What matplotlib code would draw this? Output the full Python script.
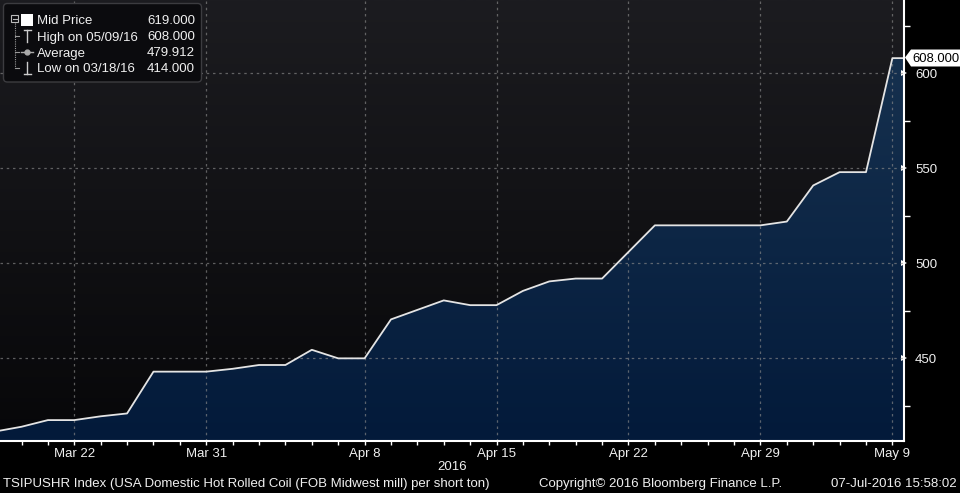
#!/usr/bin/env python3
# -*- coding: utf-8 -*-
"""
Bloomberg style area chart of the TSIPUSHR hot rolled coil index, spring 2016.
"""

import matplotlib
matplotlib.use('Agg')
import matplotlib.pyplot as plt
import matplotlib.patches as mpatches
import matplotlib.lines as mlines
from matplotlib.colors import LinearSegmentedColormap
import numpy

# UK business days shown on the chart (Good Friday, Easter Monday and May Day are skipped)
DATES = ['03/17', '03/18', '03/21', '03/22', '03/23', '03/24', '03/29', '03/30',
         '03/31', '04/01', '04/04', '04/05', '04/06', '04/07', '04/08', '04/11',
         '04/12', '04/13', '04/14', '04/15', '04/18', '04/19', '04/20', '04/21',
         '04/22', '04/25', '04/26', '04/27', '04/28', '04/29', '05/03', '05/04',
         '05/05', '05/06', '05/09', '05/10']
PRICES = [411.5, 414.0, 417.5, 417.5, 419.5, 421.0, 443.0, 443.0,
          443.0, 444.5, 446.5, 446.5, 454.5, 450.0, 450.0, 470.5,
          475.5, 480.5, 478.0, 478.0, 485.5, 490.5, 492.0, 492.0,
          506.0, 520.0, 520.0, 520.0, 520.0, 520.0, 522.0, 541.0,
          548.0, 548.0, 608.0, 608.0]
TICK_DATES = ['03/22', '03/31', '04/08', '04/15', '04/22', '04/29', '05/09']
TICK_LABELS = ['Mar 22', 'Mar 31', 'Apr 8', 'Apr 15', 'Apr 22', 'Apr 29', 'May 9']
Y_TICKS = [450, 500, 550, 600]
Y_MINOR = [425, 475, 525, 575, 625]

LEGEND_ROWS = [('Mid Price', '619.000'),
               ('High on 05/09/16', '608.000'),
               ('Average', '479.912'),
               ('Low on 03/18/16', '414.000')]
LAST_LABEL = '608.000'

W, H = 960, 493
FONT = 'Liberation Sans'
TXT = '#f0f0f0'


def px(x, y):
    """Pixel position (from top left) to figure fraction."""
    return x / W, 1 - y / H


fig = plt.figure(figsize=(W / 100, H / 100), dpi=100, facecolor='black')
ax = fig.add_axes([0, 52 / H, 904 / W, 1 - 52 / H])

x = numpy.arange(len(DATES))
y = numpy.array(PRICES)
x_lim = (0.185, 34.44)
y_lim = (406.5, 638.6)

# background gradient of the plot area
bg_cmap = LinearSegmentedColormap.from_list('bg', ['#070709', '#1c1c20'])
ax.imshow(numpy.linspace(0, 1, 256).reshape(-1, 1), cmap=bg_cmap, origin='lower',
          extent=[0, 1, 0, 1], transform=ax.transAxes, aspect='auto', zorder=0)

# area under the line, filled with a navy gradient
poly = ax.fill_between(x, y, y_lim[0], facecolor='none', edgecolor='none')
fill_cmap = LinearSegmentedColormap.from_list('fill', ['#031a3a', '#16314f'])
img = ax.imshow(numpy.linspace(0, 1, 256).reshape(-1, 1), cmap=fill_cmap,
                origin='lower', extent=[x[0], x[-1], y_lim[0], 610],
                aspect='auto', zorder=1)
img.set_clip_path(poly.get_paths()[0], transform=ax.transData)

ax.plot(x, y, color='#e4e4e4', linewidth=1.3, zorder=3)

ax.set_xlim(*x_lim)
ax.set_ylim(*y_lim)

# grid
for d in TICK_DATES:
    ax.axvline(DATES.index(d), color='#8a8a8a', alpha=0.65, linewidth=0.9,
               dashes=(2, 3), zorder=2)
for v in Y_TICKS:
    ax.axhline(v, color='#8a8a8a', alpha=0.65, linewidth=0.9,
               dashes=(2, 3), zorder=2)

# axes
for side in ('left', 'top'):
    ax.spines[side].set_visible(False)
for side in ('right', 'bottom'):
    ax.spines[side].set_color('white')
    ax.spines[side].set_linewidth(1.5)
    ax.spines[side].set_zorder(5)

ax.set_xticks([DATES.index(d) for d in TICK_DATES])
ax.set_xticklabels(TICK_LABELS)
ax.set_xticks(x[1:35], minor=True)
ax.tick_params(axis='x', which='both', colors='white', length=3, width=1,
               direction='out', pad=2, labelsize=9.5)
ax.set_xlabel('2016', color=TXT, fontsize=9.5, fontname=FONT, labelpad=1)

ax.yaxis.tick_right()
ax.set_yticks(Y_TICKS)
ax.set_yticks(Y_MINOR, minor=True)
ax.tick_params(axis='y', which='minor', colors='white', length=4, width=1)
ax.tick_params(axis='y', which='major', colors='white', length=0, pad=8,
               labelsize=9.5)
for t in ax.yaxis.get_major_ticks():
    t.tick2line.set_marker('>')
    t.tick2line.set_markersize(5)
    t.tick2line.set_markeredgewidth(0)
    t.tick2line.set_markerfacecolor('white')
for lab in ax.get_xticklabels() + ax.get_yticklabels():
    lab.set_fontname(FONT)
    lab.set_color(TXT)

# last value flag on the right axis
flag = [px(905, 57.5), px(911, 49.5), px(960, 49.5), px(960, 66.5), px(911, 66.5)]
fig.patches.append(mpatches.Polygon(flag, closed=True, transform=fig.transFigure,
                                    facecolor='white', edgecolor='none'))
fig.text(*px(912, 59), LAST_LABEL, color='black', fontsize=9.4, fontname=FONT,
         ha='left', va='center')

# legend box in the top left corner
box = mpatches.FancyBboxPatch(px(3.5, 82), 198 / W, 78.5 / H,
                              boxstyle='round,pad=0,rounding_size=0.004',
                              mutation_aspect=W / H, transform=fig.transFigure,
                              facecolor='#0b0b0e', edgecolor='#3c3c40', linewidth=1)
fig.patches.append(box)

row_y = [19.5, 36, 52, 68]
for (name, value), ry in zip(LEGEND_ROWS, row_y):
    fig.text(*px(37, ry + 1.5), name, color=TXT, fontsize=9.5, fontname=FONT,
             ha='left', va='center')
    fig.text(*px(195, ry + 1.5), value, color=TXT, fontsize=9.5, fontname=FONT,
             ha='right', va='center')


def fig_line(xs, ys, **kw):
    pts = [px(a, b) for a, b in zip(xs, ys)]
    fig.lines.append(mlines.Line2D([p[0] for p in pts], [p[1] for p in pts],
                                   transform=fig.transFigure, **kw))


# tree on the left of the legend
fig.patches.append(mpatches.Rectangle(px(11, 22), 7 / W, 7 / H,
                                      transform=fig.transFigure, facecolor='none',
                                      edgecolor='#bbbbbb', linewidth=0.8))
fig_line([12.5, 16.5], [18.5, 18.5], color='#bbbbbb', linewidth=0.8)
fig_line([14.5, 14.5], [23, 68], color='#999999', linewidth=0.8, dashes=(1, 1))
for ry in row_y[1:]:
    fig_line([14.5, 19], [ry, ry], color='#999999', linewidth=0.8)

# symbols
fig.patches.append(mpatches.Rectangle(px(21, 25.5), 12 / W, 12 / H,
                                      transform=fig.transFigure,
                                      facecolor='white', edgecolor='none'))
fig_line([23.5, 30.5], [30, 30], color='#cccccc', linewidth=1)
fig_line([27, 27], [30, 42], color='#cccccc', linewidth=1)
fig_line([21, 33], [52, 52], color='#aaaaaa', linewidth=1)
fig_line([27], [52], color='#aaaaaa', marker='o', markersize=3.5, linestyle='none')
fig_line([27, 27], [62, 74], color='#cccccc', linewidth=1)
fig_line([23.5, 30.5], [74, 74], color='#cccccc', linewidth=1)

# footer
fig.text(*px(3, 484), 'TSIPUSHR Index (USA Domestic Hot Rolled Coil '
         '(FOB Midwest mill) per short ton)', color=TXT, fontsize=9.5,
         fontname=FONT, ha='left', va='center')
fig.text(*px(539, 484), 'Copyright\u00a9 2016 Bloomberg Finance L.P.', color=TXT,
         fontsize=9.5, fontname=FONT, ha='left', va='center')
fig.text(*px(957, 484), '07-Jul-2016 15:58:02', color=TXT, fontsize=9.5,
         fontname=FONT, ha='right', va='center')

fig.savefig('out.png', dpi=100, facecolor='black')
